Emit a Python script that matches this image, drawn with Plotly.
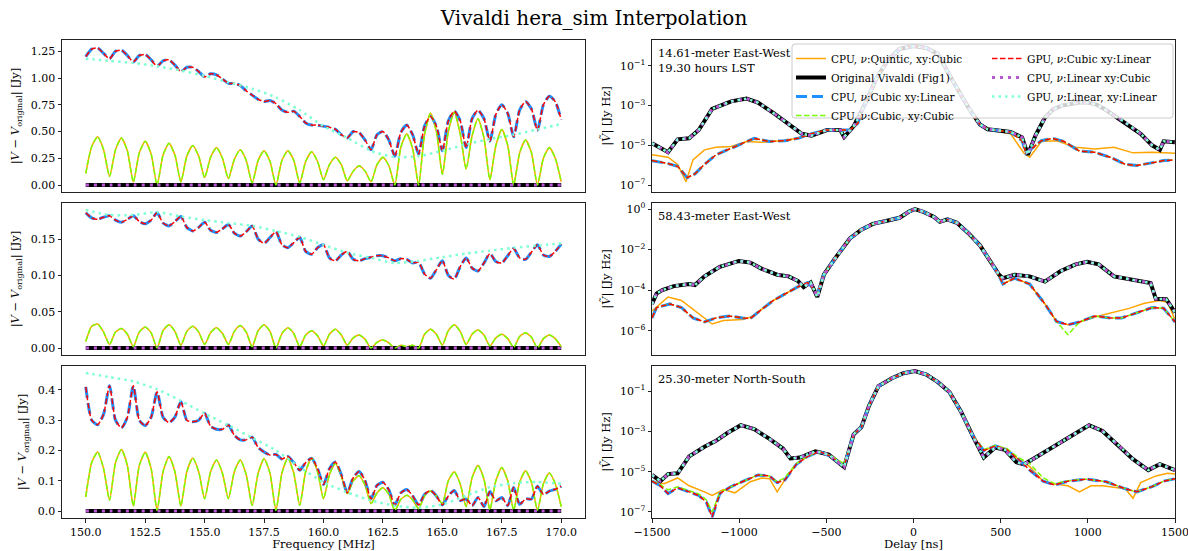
import numpy as np
import plotly.graph_objects as go

W, H = 1188, 551

# ---------------- left column: |V - V_original| vs frequency ----------------
freq_fine = np.linspace(150.0, 170.0, 81)    # 0.25 MHz channels
freq_coarse = np.linspace(150.0, 170.0, 21)  # 1 MHz channels

zero_residual = [0.0, 0.0, 0.0, 0.0, 0.0, 0.0, 0.0, 0.0, 0.0, 0.0, 0.0,
                 0.0, 0.0, 0.0, 0.0, 0.0, 0.0, 0.0, 0.0, 0.0, 0.0]

# 14.61 m East-West
ew14_res_cubic_xycubic = [
    0.11, 0.36, 0.45, 0.33, 0.08, 0.33, 0.44, 0.32, 0.03, 0.30, 0.41, 0.29,
    0.00, 0.28, 0.39, 0.28, 0.03, 0.27, 0.37, 0.27, 0.07, 0.26, 0.35, 0.25,
    0.06, 0.24, 0.33, 0.23, 0.02, 0.23, 0.32, 0.22, 0.00, 0.23, 0.32, 0.23,
    0.02, 0.22, 0.31, 0.22, 0.05, 0.19, 0.26, 0.19, 0.04, 0.13, 0.18, 0.13,
    0.03, 0.19, 0.26, 0.18, 0.00, 0.35, 0.48, 0.34, 0.00, 0.47, 0.67, 0.50,
    0.10, 0.50, 0.68, 0.48, 0.15, 0.46, 0.62, 0.44, 0.05, 0.37, 0.52, 0.37,
    0.00, 0.30, 0.42, 0.30, 0.00, 0.25, 0.35, 0.25, 0.03]
ew14_res_cubic_xylinear = [
    1.20, 1.27, 1.28, 1.23, 1.18, 1.25, 1.26, 1.21, 1.15, 1.21, 1.22, 1.17,
    1.11, 1.16, 1.17, 1.12, 1.06, 1.10, 1.10, 1.06, 1.01, 1.04, 1.03, 0.99,
    0.95, 0.95, 0.93, 0.88, 0.84, 0.80, 0.78, 0.79, 0.76, 0.70, 0.68, 0.69,
    0.64, 0.58, 0.56, 0.56, 0.55, 0.54, 0.52, 0.47, 0.44, 0.50, 0.49, 0.42,
    0.33, 0.47, 0.50, 0.42, 0.27, 0.49, 0.56, 0.47, 0.29, 0.55, 0.64, 0.55,
    0.32, 0.60, 0.69, 0.60, 0.35, 0.62, 0.70, 0.62, 0.41, 0.66, 0.75, 0.67,
    0.45, 0.70, 0.78, 0.71, 0.51, 0.75, 0.83, 0.78, 0.61]
ew14_res_linear_xylinear = [1.18, 1.16, 1.14, 1.11, 1.07, 1.02, 0.96, 0.90, 0.82, 0.70, 0.55,
                            0.44, 0.32, 0.26, 0.27, 0.32, 0.38, 0.43, 0.47, 0.52, 0.57]

# 58.43 m East-West
ew58_res_cubic_xycubic = [
    0.009, 0.030, 0.033, 0.022, 0.005, 0.022, 0.027, 0.019, 0.002, 0.022, 0.029, 0.021,
    0.000, 0.024, 0.032, 0.023, 0.004, 0.023, 0.030, 0.022, 0.005, 0.021, 0.028, 0.020,
    0.005, 0.023, 0.031, 0.022, 0.002, 0.024, 0.032, 0.023, 0.000, 0.020, 0.028, 0.020,
    0.002, 0.018, 0.024, 0.017, 0.003, 0.019, 0.026, 0.018, 0.004, 0.014, 0.018, 0.012,
    0.000, 0.008, 0.011, 0.007, 0.000, 0.004, 0.002, 0.004, 0.000, 0.019, 0.026, 0.019,
    0.004, 0.024, 0.032, 0.023, 0.005, 0.019, 0.025, 0.018, 0.003, 0.014, 0.019, 0.013,
    0.001, 0.016, 0.021, 0.015, 0.000, 0.013, 0.018, 0.013, 0.002]
ew58_res_cubic_xylinear = [
    0.186, 0.179, 0.177, 0.180, 0.182, 0.176, 0.173, 0.177, 0.182, 0.174, 0.171, 0.176,
    0.186, 0.172, 0.168, 0.174, 0.181, 0.166, 0.161, 0.166, 0.173, 0.162, 0.159, 0.164,
    0.170, 0.158, 0.154, 0.160, 0.168, 0.150, 0.144, 0.152, 0.160, 0.142, 0.138, 0.145,
    0.152, 0.133, 0.129, 0.138, 0.142, 0.124, 0.120, 0.128, 0.133, 0.122, 0.120, 0.123,
    0.125, 0.127, 0.127, 0.124, 0.120, 0.123, 0.122, 0.117, 0.118, 0.102, 0.096, 0.108,
    0.120, 0.100, 0.095, 0.112, 0.124, 0.110, 0.106, 0.117, 0.130, 0.119, 0.117, 0.127,
    0.137, 0.124, 0.122, 0.132, 0.142, 0.128, 0.126, 0.133, 0.143]
ew58_res_linear_xylinear = [0.190, 0.183, 0.183, 0.187, 0.181, 0.176, 0.172, 0.168, 0.161, 0.153, 0.142,
                            0.131, 0.124, 0.117, 0.120, 0.125, 0.130, 0.134, 0.138, 0.141, 0.144]

# 25.30 m North-South
ns25_res_cubic_xycubic = [
    0.047, 0.160, 0.195, 0.140, 0.036, 0.160, 0.203, 0.150, 0.017, 0.150, 0.194, 0.140,
    0.002, 0.130, 0.180, 0.130, 0.017, 0.130, 0.175, 0.130, 0.041, 0.130, 0.169, 0.125,
    0.041, 0.130, 0.169, 0.120, 0.019, 0.125, 0.173, 0.125, 0.002, 0.125, 0.175, 0.125,
    0.019, 0.130, 0.175, 0.130, 0.041, 0.120, 0.158, 0.115, 0.058, 0.100, 0.117, 0.085,
    0.025, 0.060, 0.077, 0.055, 0.002, 0.038, 0.052, 0.037, 0.008, 0.050, 0.066, 0.050,
    0.025, 0.100, 0.130, 0.090, 0.015, 0.110, 0.151, 0.105, 0.005, 0.100, 0.144, 0.100,
    0.004, 0.095, 0.133, 0.094, 0.003, 0.090, 0.126, 0.090, 0.015]
ns25_res_cubic_xylinear = [
    0.410, 0.300, 0.285, 0.320, 0.414, 0.300, 0.275, 0.310, 0.414, 0.300, 0.282, 0.310,
    0.394, 0.310, 0.292, 0.310, 0.361, 0.300, 0.295, 0.300, 0.323, 0.280, 0.270, 0.270,
    0.284, 0.250, 0.235, 0.235, 0.244, 0.210, 0.195, 0.185, 0.187, 0.172, 0.180, 0.160,
    0.135, 0.160, 0.174, 0.140, 0.088, 0.140, 0.162, 0.120, 0.060, 0.110, 0.131, 0.100,
    0.040, 0.085, 0.095, 0.070, 0.020, 0.060, 0.071, 0.050, 0.020, 0.055, 0.068, 0.050,
    0.020, 0.050, 0.068, 0.035, 0.040, 0.018, 0.045, 0.015, 0.065, 0.034, 0.045, 0.018,
    0.078, 0.022, 0.040, 0.040, 0.082, 0.055, 0.066, 0.072, 0.082]
ns25_res_linear_xylinear = [0.456, 0.442, 0.428, 0.402, 0.364, 0.322, 0.283, 0.242, 0.200, 0.145, 0.095,
                            0.062, 0.035, 0.018, 0.011, 0.022, 0.051, 0.079, 0.092, 0.096, 0.090]

# ---------------- right column: delay spectra, log10 |V~| [Jy Hz] ----------------
ew14_delay_orig = [-1500, -1408, -1353, -1287, -1232, -1155, -1100, -1046, -958, -892, -804, -716,
                   -640, -585, -497, -420, -398, -343, -277, -211, -146, -80, 0, 74, 140, 228, 315,
                   381, 425, 557, 623, 656, 700, 754, 800, 850, 900, 950, 1000, 1050, 1100, 1150,
                   1215, 1303, 1369, 1413, 1435, 1500]
ew14_log_orig = [-4.9, -5.35, -4.7, -4.65, -4.23, -3.17, -2.98, -2.79, -2.65, -2.85, -3.37, -3.94,
                 -4.42, -4.52, -4.23, -4.23, -4.58, -4.04, -2.9, -1.6, -0.7, -0.15, 0.0, -0.1, -0.4,
                 -1.8, -3.1, -3.95, -4.19, -4.33, -4.6, -5.48, -4.5, -3.6, -3.2, -3.0, -2.9, -2.85,
                 -2.85, -2.95, -3.2, -3.5, -3.85, -4.42, -5.0, -5.23, -4.8, -4.85]
ew14_delay_cubic = [-1500, -1408, -1353, -1298, -1254, -1199, -1133, -1068, -980, -914, -826, -738,
                    -662, -585, -497, -431, -365, -320, -277, -211, -146, -80, 0, 74, 140, 228, 315,
                    381, 425, 557, 623, 645, 733, 799, 864, 952, 1040, 1128, 1215, 1281, 1369, 1435,
                    1500]
ew14_log_cubic = [-5.77, -5.92, -6.06, -6.63, -6.44, -5.96, -5.48, -5.23, -4.9, -4.65, -4.81, -4.77,
                  -4.65, -4.42, -4.23, -4.23, -4.23, -3.9, -2.9, -1.6, -0.7, -0.15, 0.0, -0.1, -0.4,
                  -1.8, -3.1, -3.95, -4.19, -4.33, -4.77, -5.4, -4.77, -4.65, -4.81, -5.29, -5.35,
                  -5.6, -5.96, -6.02, -5.87, -5.77, -5.73]
ew14_delay_quintic = [-1500, -1408, -1353, -1305, -1265, -1199, -1133, -1046, -958, -870, -760, -662,
                      -585, -497, -431, -365, -320, -277, -211, -146, -80, 0, 74, 140, 228, 315, 381,
                      425, 557, 634, 667, 733, 821, 930, 1040, 1150, 1259, 1369, 1500]
ew14_log_quintic = [-5.48, -5.6, -5.96, -6.83, -5.73, -5.23, -5.1, -5.06, -4.81, -4.85, -4.77, -4.65,
                    -4.42, -4.23, -4.23, -4.23, -3.9, -2.9, -1.6, -0.7, -0.15, 0.0, -0.1, -0.4, -1.8,
                    -3.1, -3.95, -4.19, -4.42, -5.4, -5.6, -4.81, -4.77, -5.1, -5.19, -5.1, -5.38,
                    -5.35, -5.4]

ew58_delay_orig = [-1500, -1474, -1441, -1375, -1287, -1254, -1199, -1111, -1002, -936, -870, -782,
                   -716, -662, -630, -590, -552, -514, -453, -365, -299, -233, -146, -80, -25, 8, 52,
                   118, 151, 195, 249, 315, 381, 447, 491, 513, 579, 666, 754, 842, 930, 996, 1062,
                   1150, 1237, 1325, 1360, 1390, 1450, 1500]
ew58_log_orig = [-4.68, -4.17, -4.0, -3.8, -3.7, -3.75, -3.32, -2.85, -2.56, -2.64, -2.95, -3.24,
                 -3.32, -3.55, -3.85, -3.62, -4.34, -3.24, -2.47, -1.45, -1.02, -0.73, -0.56, -0.43,
                 -0.12, 0.0, -0.12, -0.39, -0.63, -0.51, -0.68, -1.19, -1.79, -2.64, -3.24, -3.41,
                 -3.24, -3.32, -3.58, -3.07, -2.73, -2.6, -2.73, -3.32, -3.46, -3.58, -3.65, -4.43,
                 -4.45, -5.1]
ew58_delay_cubic = [-1500, -1474, -1397, -1331, -1265, -1199, -1133, -1057, -980, -936, -870, -804,
                    -716, -662, -607, -585, -552, -514, -453, -365, -299, -233, -146, -80, -25, 8, 52,
                    118, 151, 195, 249, 315, 381, 447, 491, 513, 579, 666, 754, 820, 886, 952, 1040,
                    1128, 1194, 1281, 1369, 1435, 1500]
ew58_log_cubic = [-5.37, -4.86, -4.68, -4.86, -5.37, -5.57, -5.37, -5.28, -5.37, -5.4, -4.94, -4.51,
                  -4.09, -3.83, -3.63, -3.83, -4.2, -3.24, -2.47, -1.45, -1.02, -0.73, -0.56, -0.43,
                  -0.12, 0.0, -0.12, -0.39, -0.63, -0.51, -0.68, -1.19, -1.79, -2.64, -3.3, -3.7,
                  -3.41, -3.7, -4.68, -5.54, -5.71, -5.57, -5.28, -5.37, -5.37, -5.11, -4.86, -4.89,
                  -5.57]
ew58_log_cubic_xycubic = [-5.37, -4.86, -4.68, -4.86, -5.37, -5.57, -5.37, -5.28, -5.37, -5.4, -4.94,
                          -4.51, -4.09, -3.83, -3.63, -3.83, -4.2, -3.24, -2.47, -1.45, -1.02, -0.73,
                          -0.56, -0.43, -0.12, 0.0, -0.12, -0.39, -0.63, -0.51, -0.68, -1.19, -1.79,
                          -2.64, -3.3, -3.7, -3.41, -3.7, -4.68, -5.54, -6.2, -5.57, -5.28, -5.37,
                          -5.37, -5.11, -4.86, -4.89, -5.57]
ew58_delay_quintic = [-1500, -1408, -1331, -1243, -1155, -1090, -980, -914, -870, -804, -716, -662,
                      -607, -585, -552, -514, -453, -365, -299, -233, -146, -80, -25, 8, 52, 118, 151,
                      195, 249, 315, 381, 447, 491, 513, 579, 666, 754, 820, 886, 952, 1062, 1150,
                      1237, 1325, 1413, 1457, 1500]
ew58_log_quintic = [-5.03, -4.34, -4.51, -5.11, -5.67, -5.5, -5.45, -5.28, -4.94, -4.51, -4.09, -3.83,
                    -3.63, -3.83, -4.2, -3.24, -2.47, -1.45, -1.02, -0.73, -0.56, -0.43, -0.12, 0.0,
                    -0.12, -0.39, -0.63, -0.51, -0.68, -1.19, -1.79, -2.64, -3.3, -3.7, -3.41, -3.7,
                    -4.68, -5.54, -5.71, -5.57, -5.28, -5.1, -4.9, -4.65, -4.51, -4.6, -5.45]

ns25_delay_orig = [-1500, -1452, -1408, -1353, -1287, -1199, -1133, -1068, -991, -914, -826, -749,
                   -706, -651, -563, -486, -398, -343, -299, -255, -201, -124, -58, 8, 74, 140, 206,
                   272, 337, 403, 469, 524, 590, 634, 700, 776, 864, 952, 1007, 1084, 1172, 1259,
                   1347, 1413, 1500]
ns25_log_orig = [-5.16, -5.47, -5.12, -5.08, -4.24, -3.76, -3.47, -3.08, -2.69, -2.88, -3.37, -3.85,
                 -4.34, -4.3, -3.99, -4.15, -4.77, -3.14, -2.79, -1.72, -0.75, -0.36, -0.11, 0.0,
                 -0.17, -0.55, -1.04, -2.01, -3.17, -4.3, -3.8, -3.91, -4.53, -4.63, -4.3, -3.91,
                 -3.47, -2.98, -2.69, -2.98, -3.66, -4.38, -4.92, -4.63, -4.92]
ns25_delay_cubic = [-1500, -1452, -1408, -1353, -1287, -1232, -1188, -1155, -1111, -1046, -958, -892,
                    -826, -782, -738, -672, -607, -541, -475, -398, -343, -299, -255, -201, -124, -58,
                    8, 74, 140, 206, 272, 337, 403, 469, 535, 601, 667, 743, 810, 886, 996, 1106,
                    1215, 1281, 1369, 1435, 1500]
ns25_log_cubic = [-5.47, -5.7, -6.09, -5.8, -6.0, -6.18, -6.51, -7.25, -6.09, -5.74, -5.41, -5.16,
                  -5.21, -5.54, -5.41, -4.63, -4.24, -3.99, -4.24, -4.73, -3.14, -2.79, -1.72, -0.75,
                  -0.36, -0.11, 0.0, -0.17, -0.55, -1.04, -2.01, -3.17, -3.95, -3.72, -3.91, -4.38,
                  -4.92, -5.47, -5.66, -5.47, -5.37, -5.5, -5.85, -6.0, -5.74, -5.47, -5.35]
ns25_log_cubic_xycubic = [-5.47, -5.65, -5.9, -5.75, -5.95, -6.1, -6.4, -7.0, -6.05, -5.74, -5.41,
                          -5.16, -5.21, -5.5, -5.3, -4.6, -4.24, -3.99, -4.2, -4.6, -3.14, -2.79,
                          -1.72, -0.75, -0.36, -0.11, 0.0, -0.17, -0.55, -1.04, -2.01, -3.17, -3.9,
                          -3.7, -3.85, -4.3, -4.6, -5.3, -5.6, -5.45, -5.37, -5.5, -5.85, -6.0,
                          -5.74, -5.47, -5.35]
ns25_delay_quintic = [-1500, -1430, -1353, -1287, -1199, -1155, -1090, -1024, -936, -870, -826, -782,
                      -738, -672, -607, -541, -475, -398, -343, -299, -255, -201, -124, -58, 8, 74,
                      140, 206, 272, 337, 403, 469, 535, 601, 667, 743, 799, 886, 952, 1018, 1084,
                      1172, 1215, 1259, 1303, 1391, 1457, 1500]
ns25_log_quintic = [-5.47, -5.6, -5.31, -5.7, -6.0, -6.18, -5.89, -6.05, -5.5, -5.31, -5.35, -6.0,
                    -5.41, -4.63, -4.24, -3.99, -4.24, -4.73, -3.14, -2.79, -1.72, -0.75, -0.36,
                    -0.11, 0.0, -0.17, -0.55, -1.04, -2.01, -3.17, -3.95, -3.72, -3.91, -4.38, -4.75,
                    -5.47, -5.6, -5.7, -6.0, -5.7, -5.7, -5.8, -5.85, -6.32, -5.54, -5.21, -5.08,
                    -5.12]

# ---------------- styles ----------------
NU = "<i>ν</i>"
S = {
    "quintic": dict(name=f"CPU, {NU}:Quintic, xy:Cubic", color="#FFA500", width=1.5, dash="solid", legend="legend"),
    "orig": dict(name="Original Vivaldi (Fig1)", color="#000000", width=4, dash="solid", legend="legend"),
    "cpu_cub_lin": dict(name=f"CPU, {NU}:Cubic xy:Linear", color="#1E90FF", width=3, dash="11px,5px", legend="legend"),
    "cpu_cub_cub": dict(name=f"CPU, {NU}:Cubic, xy:Cubic", color="#7CFC00", width=1.5, dash="5.5px,2.5px", legend="legend"),
    "gpu_cub_lin": dict(name=f"GPU, {NU}:Cubic xy:Linear", color="#FF0000", width=1.5, dash="5.5px,2.5px", legend="legend2"),
    "cpu_lin_cub": dict(name=f"CPU, {NU}:Linear xy:Cubic", color="#BA55D3", width=3, dash="3px,5px", legend="legend2"),
    "gpu_lin_lin": dict(name=f"GPU, {NU}:Linear, xy:Linear", color="#7FFFD4", width=2.5, dash="2.5px,4px", legend="legend2"),
}
ORDER = ["quintic", "orig", "cpu_cub_lin", "cpu_cub_cub", "gpu_cub_lin", "cpu_lin_cub", "gpu_lin_lin"]
RANK = {"quintic": 1, "orig": 2, "cpu_cub_lin": 3, "cpu_cub_cub": 4,
        "gpu_cub_lin": 5, "cpu_lin_cub": 6, "gpu_lin_lin": 7}

fig = go.Figure()


def add(key, x, y, xa, ya, show, spline=False):
    s = S[key]
    line = dict(color=s["color"], width=s["width"], dash=s["dash"])
    if spline:
        line.update(shape="spline", smoothing=0.6)
    fig.add_trace(go.Scatter(x=x, y=y, mode="lines", name=s["name"], line=line,
                             xaxis=xa, yaxis=ya, showlegend=show, legend=s["legend"],
                             legendrank=RANK[key], hoverinfo="skip"))


left_sets = [
    ("x", "y", ew14_res_cubic_xycubic, ew14_res_cubic_xylinear, ew14_res_linear_xylinear),
    ("x2", "y2", ew58_res_cubic_xycubic, ew58_res_cubic_xylinear, ew58_res_linear_xylinear),
    ("x3", "y3", ns25_res_cubic_xycubic, ns25_res_cubic_xylinear, ns25_res_linear_xylinear),
]
for xa, ya, cc, cl, ll in left_sets:
    data = {
        "quintic": (freq_fine, cc), "orig": (freq_coarse, zero_residual),
        "cpu_cub_lin": (freq_fine, cl), "cpu_cub_cub": (freq_fine, cc),
        "gpu_cub_lin": (freq_fine, cl), "cpu_lin_cub": (freq_coarse, zero_residual),
        "gpu_lin_lin": (freq_coarse, ll),
    }
    for k in ORDER:
        add(k, data[k][0], data[k][1], xa, ya, False, spline=True)


def p10(v):
    return 10.0 ** np.array(v)


right_sets = [
    ("x4", "y4", True,
     (ew14_delay_quintic, ew14_log_quintic), (ew14_delay_orig, ew14_log_orig),
     (ew14_delay_cubic, ew14_log_cubic), (ew14_delay_cubic, ew14_log_cubic)),
    ("x5", "y5", False,
     (ew58_delay_quintic, ew58_log_quintic), (ew58_delay_orig, ew58_log_orig),
     (ew58_delay_cubic, ew58_log_cubic), (ew58_delay_cubic, ew58_log_cubic_xycubic)),
    ("x6", "y6", False,
     (ns25_delay_quintic, ns25_log_quintic), (ns25_delay_orig, ns25_log_orig),
     (ns25_delay_cubic, ns25_log_cubic), (ns25_delay_cubic, ns25_log_cubic_xycubic)),
]
for xa, ya, show, q, o, c, cc in right_sets:
    data = {
        "quintic": q, "orig": o, "cpu_cub_lin": c, "cpu_cub_cub": cc,
        "gpu_cub_lin": c, "cpu_lin_cub": o, "gpu_lin_lin": o,
    }
    for k in ORDER:
        add(k, data[k][0], p10(data[k][1]), xa, ya, show)

# ---------------- layout ----------------
def px_x(p):
    return p / W


def px_y(p):
    return 1 - p / H


rows_px = [(40, 192), (203, 355), (366, 518)]
left_dom = [px_x(62), px_x(585)]
right_dom = [px_x(652), px_x(1175)]

FONT = "DejaVu Serif"
tickfont = dict(family=FONT, size=11, color="black")
axis_common = dict(showline=True, linecolor="#222", linewidth=1, mirror=True, showgrid=False,
                   zeroline=False, ticks="outside", ticklen=3.5, tickwidth=0.8, tickcolor="#222",
                   tickfont=tickfont, automargin=False, ticklabeloverflow="allow")

sup = lambda e: "10<sup>" + (("−" + str(-e)) if e < 0 else str(e)) + "</sup>"
left_yticks = [
    ([0, 0.25, 0.5, 0.75, 1.0, 1.25], ["0.00", "0.25", "0.50", "0.75", "1.00", "1.25"], [-0.065, 1.355]),
    ([0, 0.05, 0.10, 0.15], ["0.00", "0.05", "0.10", "0.15"], [-0.0095, 0.1995]),
    ([0, 0.1, 0.2, 0.3, 0.4], ["0.0", "0.1", "0.2", "0.3", "0.4"], [-0.0228, 0.4788]),
]
right_yticks = [
    ([-1, -3, -5, -7], [-7.35, 0.3]),
    ([0, -2, -4, -6], [-7.2, 0.3]),
    ([-1, -3, -5, -7], [-7.3, 0.25]),
]
ytitle_left = "|<i>V</i> − <i>V</i><sub>original</sub>| [Jy]"
ytitle_right = "|<i>Ṽ</i>| [Jy Hz]"
freq_ticks = [150.0, 152.5, 155.0, 157.5, 160.0, 162.5, 165.0, 167.5, 170.0]
delay_ticks = [-1500, -1000, -500, 0, 500, 1000, 1500]

lay = {}
for i in range(3):
    top, bot = rows_px[i]
    ydom = [px_y(bot), px_y(top)]
    n = i + 1
    xs = "xaxis" if n == 1 else f"xaxis{n}"
    ys = "yaxis" if n == 1 else f"yaxis{n}"
    last = (i == 2)
    xd = dict(axis_common, domain=left_dom, anchor="y" if n == 1 else f"y{n}", range=[149, 171],
              showticklabels=last, ticks="outside" if last else "")
    if last:
        xd.update(tickmode="array", tickvals=freq_ticks, ticktext=[f"{v:.1f}" for v in freq_ticks],
                  title=dict(text="Frequency [MHz]", font=dict(family=FONT, size=11.5, color="black"),
                             standoff=4))
    lay[xs] = xd
    tv, tt, rg = left_yticks[i]
    lay[ys] = dict(axis_common, domain=ydom, anchor="x" if n == 1 else f"x{n}", range=rg,
                   tickmode="array", tickvals=tv, ticktext=tt,
                   title=dict(text=ytitle_left, font=dict(family=FONT, size=11.5, color="black"), standoff=8))
    m = i + 4
    xd = dict(axis_common, domain=right_dom, anchor=f"y{m}", range=[-1500, 1500],
              showticklabels=last, ticks="outside" if last else "")
    if last:
        xd.update(tickmode="array", tickvals=delay_ticks,
                  ticktext=[("−" + str(-v)) if v < 0 else str(v) for v in delay_ticks],
                  title=dict(text="Delay [ns]", font=dict(family=FONT, size=11.5, color="black"), standoff=4))
    lay[f"xaxis{m}"] = xd
    exps, rg = right_yticks[i]
    lay[f"yaxis{m}"] = dict(axis_common, domain=ydom, anchor=f"x{m}", type="log", range=rg,
                            tickmode="array", tickvals=[10.0 ** e for e in exps], ticktext=[sup(e) for e in exps],
                            title=dict(text=ytitle_right, font=dict(family=FONT, size=11.5, color="black"), standoff=6))

fig.update_layout(**lay)

# legend frame (semi-transparent like matplotlib's framealpha=0.8)
x0, x1, y0, y1 = px_x(792), px_x(1173), px_y(118), px_y(44)
rx, ry = 3 / W, 3 / H
path = (f"M {x0+rx},{y0} L {x1-rx},{y0} Q {x1},{y0} {x1},{y0+ry} L {x1},{y1-ry} Q {x1},{y1} {x1-rx},{y1} "
        f"L {x0+rx},{y1} Q {x0},{y1} {x0},{y1-ry} L {x0},{y0+ry} Q {x0},{y0} {x0+rx},{y0} Z")
fig.add_shape(type="path", path=path, xref="paper", yref="paper", layer="above",
              fillcolor="rgba(255,255,255,0.8)", line=dict(color="#cccccc", width=1))

legend_font = dict(family=FONT, size=10.5, color="black")
fig.update_layout(
    width=W, height=H, autosize=False,
    margin=dict(l=0, r=0, t=0, b=0),
    paper_bgcolor="white", plot_bgcolor="white",
    font=dict(family=FONT, color="black"),
    title=dict(text="Vivaldi hera_sim Interpolation", x=0.5, xanchor="center", xref="paper",
               y=px_y(18), yref="container", yanchor="middle",
               font=dict(family=FONT, size=20, color="black")),
    legend=dict(x=px_x(791), y=px_y(44), xanchor="left", yanchor="top", bgcolor="rgba(0,0,0,0)",
                borderwidth=0, font=legend_font, itemwidth=30, tracegroupgap=0, traceorder="normal"),
    legend2=dict(x=px_x(987), y=px_y(44), xanchor="left", yanchor="top", bgcolor="rgba(0,0,0,0)",
                 borderwidth=0, font=legend_font, itemwidth=30, tracegroupgap=0, traceorder="normal"),
    annotations=[
        dict(text="14.61-meter East-West<br>19.30 hours LST", x=px_x(656), y=px_y(44), xref="paper", yref="paper",
             xanchor="left", yanchor="top", showarrow=False, align="left",
             font=dict(family=FONT, size=11.5, color="black")),
        dict(text="58.43-meter East-West", x=px_x(656), y=px_y(207), xref="paper", yref="paper",
             xanchor="left", yanchor="top", showarrow=False, align="left",
             font=dict(family=FONT, size=11.5, color="black")),
        dict(text="25.30-meter North-South", x=px_x(656), y=px_y(370), xref="paper", yref="paper",
             xanchor="left", yanchor="top", showarrow=False, align="left",
             font=dict(family=FONT, size=11.5, color="black")),
    ],
)

fig.write_html("out.html")
